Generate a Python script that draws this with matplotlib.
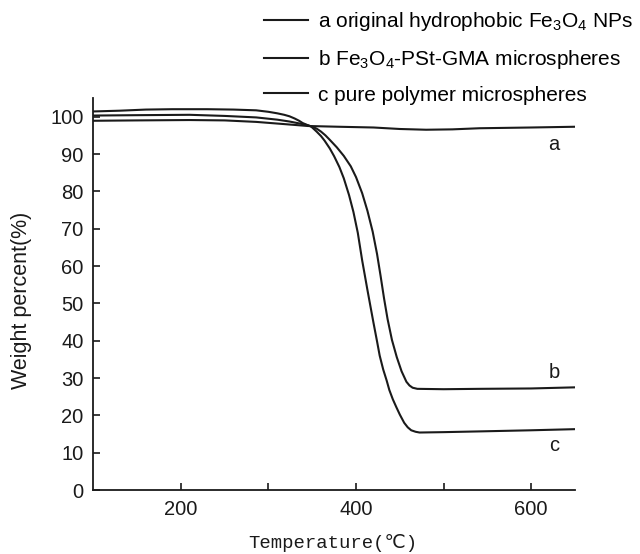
import numpy as np
import matplotlib
matplotlib.use("Agg")
import matplotlib.pyplot as plt
from matplotlib.ticker import FixedLocator

plt.rcParams['font.family'] = ['Liberation Sans', 'DejaVu Sans']
plt.rcParams['mathtext.default'] = 'regular'

# TGA curves
temp_a   = [100, 150, 210, 250, 286, 324, 345, 380, 420, 450, 480, 510, 541, 600, 650]
weight_a = [98.9, 99.0, 99.1, 99.0, 98.6, 97.9, 97.5, 97.3, 97.1, 96.7, 96.5, 96.6, 96.9, 97.1, 97.3]

temp_b   = [100, 150, 210, 250, 286, 310, 324, 335, 345, 349, 355, 360, 365, 370, 378, 386,
            394, 400, 407, 413, 419, 424, 428, 432, 436, 441, 446.5, 452, 457.5, 461,
            464.6, 470, 500, 541, 600, 650]
weight_b = [100.3, 100.4, 100.5, 100.2, 99.8, 99.2, 98.7, 98.2, 97.7, 97.4, 96.8, 96.0, 95.0, 93.8, 91.8, 89.5,
            86.7, 83.8, 79.5, 74.8, 69.2, 63.2, 57.4, 51.3, 45.8, 40.2, 35.6, 31.8, 29.0, 28.0,
            27.4, 27.1, 27.0, 27.1, 27.2, 27.5]

temp_c   = [100, 130, 160, 190, 230, 260, 286, 300, 310, 318, 324, 330, 335, 339, 344, 349,
            355, 360, 364, 370, 375, 381, 386, 392, 397, 402, 407, 413, 417, 420, 424, 427,
            431, 435, 438, 442, 446, 450, 455, 459, 463, 468, 472.5, 500, 541, 600, 650]
weight_c = [101.4, 101.6, 101.9, 102.0, 102.0, 101.9, 101.7, 101.3, 100.9, 100.5, 100.1, 99.5, 98.9, 98.3, 97.8, 97.3,
            96.0, 94.8, 93.6, 91.5, 89.4, 86.5, 83.5, 79.0, 74.5, 68.9, 61.5, 53.6, 48.5, 44.7, 39.8, 36.0,
            32.3, 29.3, 26.8, 24.3, 22.2, 20.2, 18.0, 16.8, 16.0, 15.6, 15.4, 15.5, 15.7, 16.0, 16.3]

legend_labels = ['a original hydrophobic Fe$_3$O$_4$ NPs',
                 'b Fe$_3$O$_4$-PSt-GMA microspheres',
                 'c pure polymer microspheres']
curve_tags = ['a', 'b', 'c']
tag_pos    = [(626, 92.5), (626, 31.6), (626, 12.0)]

fig = plt.figure(figsize=(6.4, 5.54), dpi=100)
ax = fig.add_axes([0.1458, 0.1155, 0.7526, 0.7076])

lines = []
for t, w in [(temp_a, weight_a), (temp_b, weight_b), (temp_c, weight_c)]:
    ln, = ax.plot(t, w, color='#1a1a1a', lw=1.5)
    lines.append(ln)

for tag, (x, y) in zip(curve_tags, tag_pos):
    ax.text(x, y, tag, fontsize=14.5, ha='center', va='center', color='#1a1a1a')

ax.set_xlim(100, 650)
ax.set_ylim(0, 105)
ax.xaxis.set_major_locator(FixedLocator([200, 400, 600]))
ax.xaxis.set_minor_locator(FixedLocator([300, 500]))
ax.set_yticks(np.arange(0, 101, 10))
ax.tick_params(which='both', direction='in', length=5, width=1.2, labelsize=14.5,
               colors='#1a1a1a', pad=7)
for s in ['top', 'right']:
    ax.spines[s].set_visible(False)
for s in ['left', 'bottom']:
    ax.spines[s].set_linewidth(1.3)
    ax.spines[s].set_color('#1a1a1a')

fig.text(0.034, 0.458, 'Weight percent(%)', fontsize=15.5, rotation=90,
         ha='center', va='center', color='#1a1a1a')
fig.text(0.52, 0.02, 'Temperature(\u2103)', fontsize=13.6,
         family=['Liberation Mono', 'DejaVu Sans Mono', 'DejaVu Sans'],
         ha='center', va='center', color='#1a1a1a')

fig.legend(lines, legend_labels, loc='upper left', bbox_to_anchor=(0.41, 0.985),
           frameon=False, fontsize=15, handlelength=2.1, handletextpad=0.45,
           labelspacing=0.7, borderpad=0.1, borderaxespad=0)

fig.savefig('out.png', dpi=100)
